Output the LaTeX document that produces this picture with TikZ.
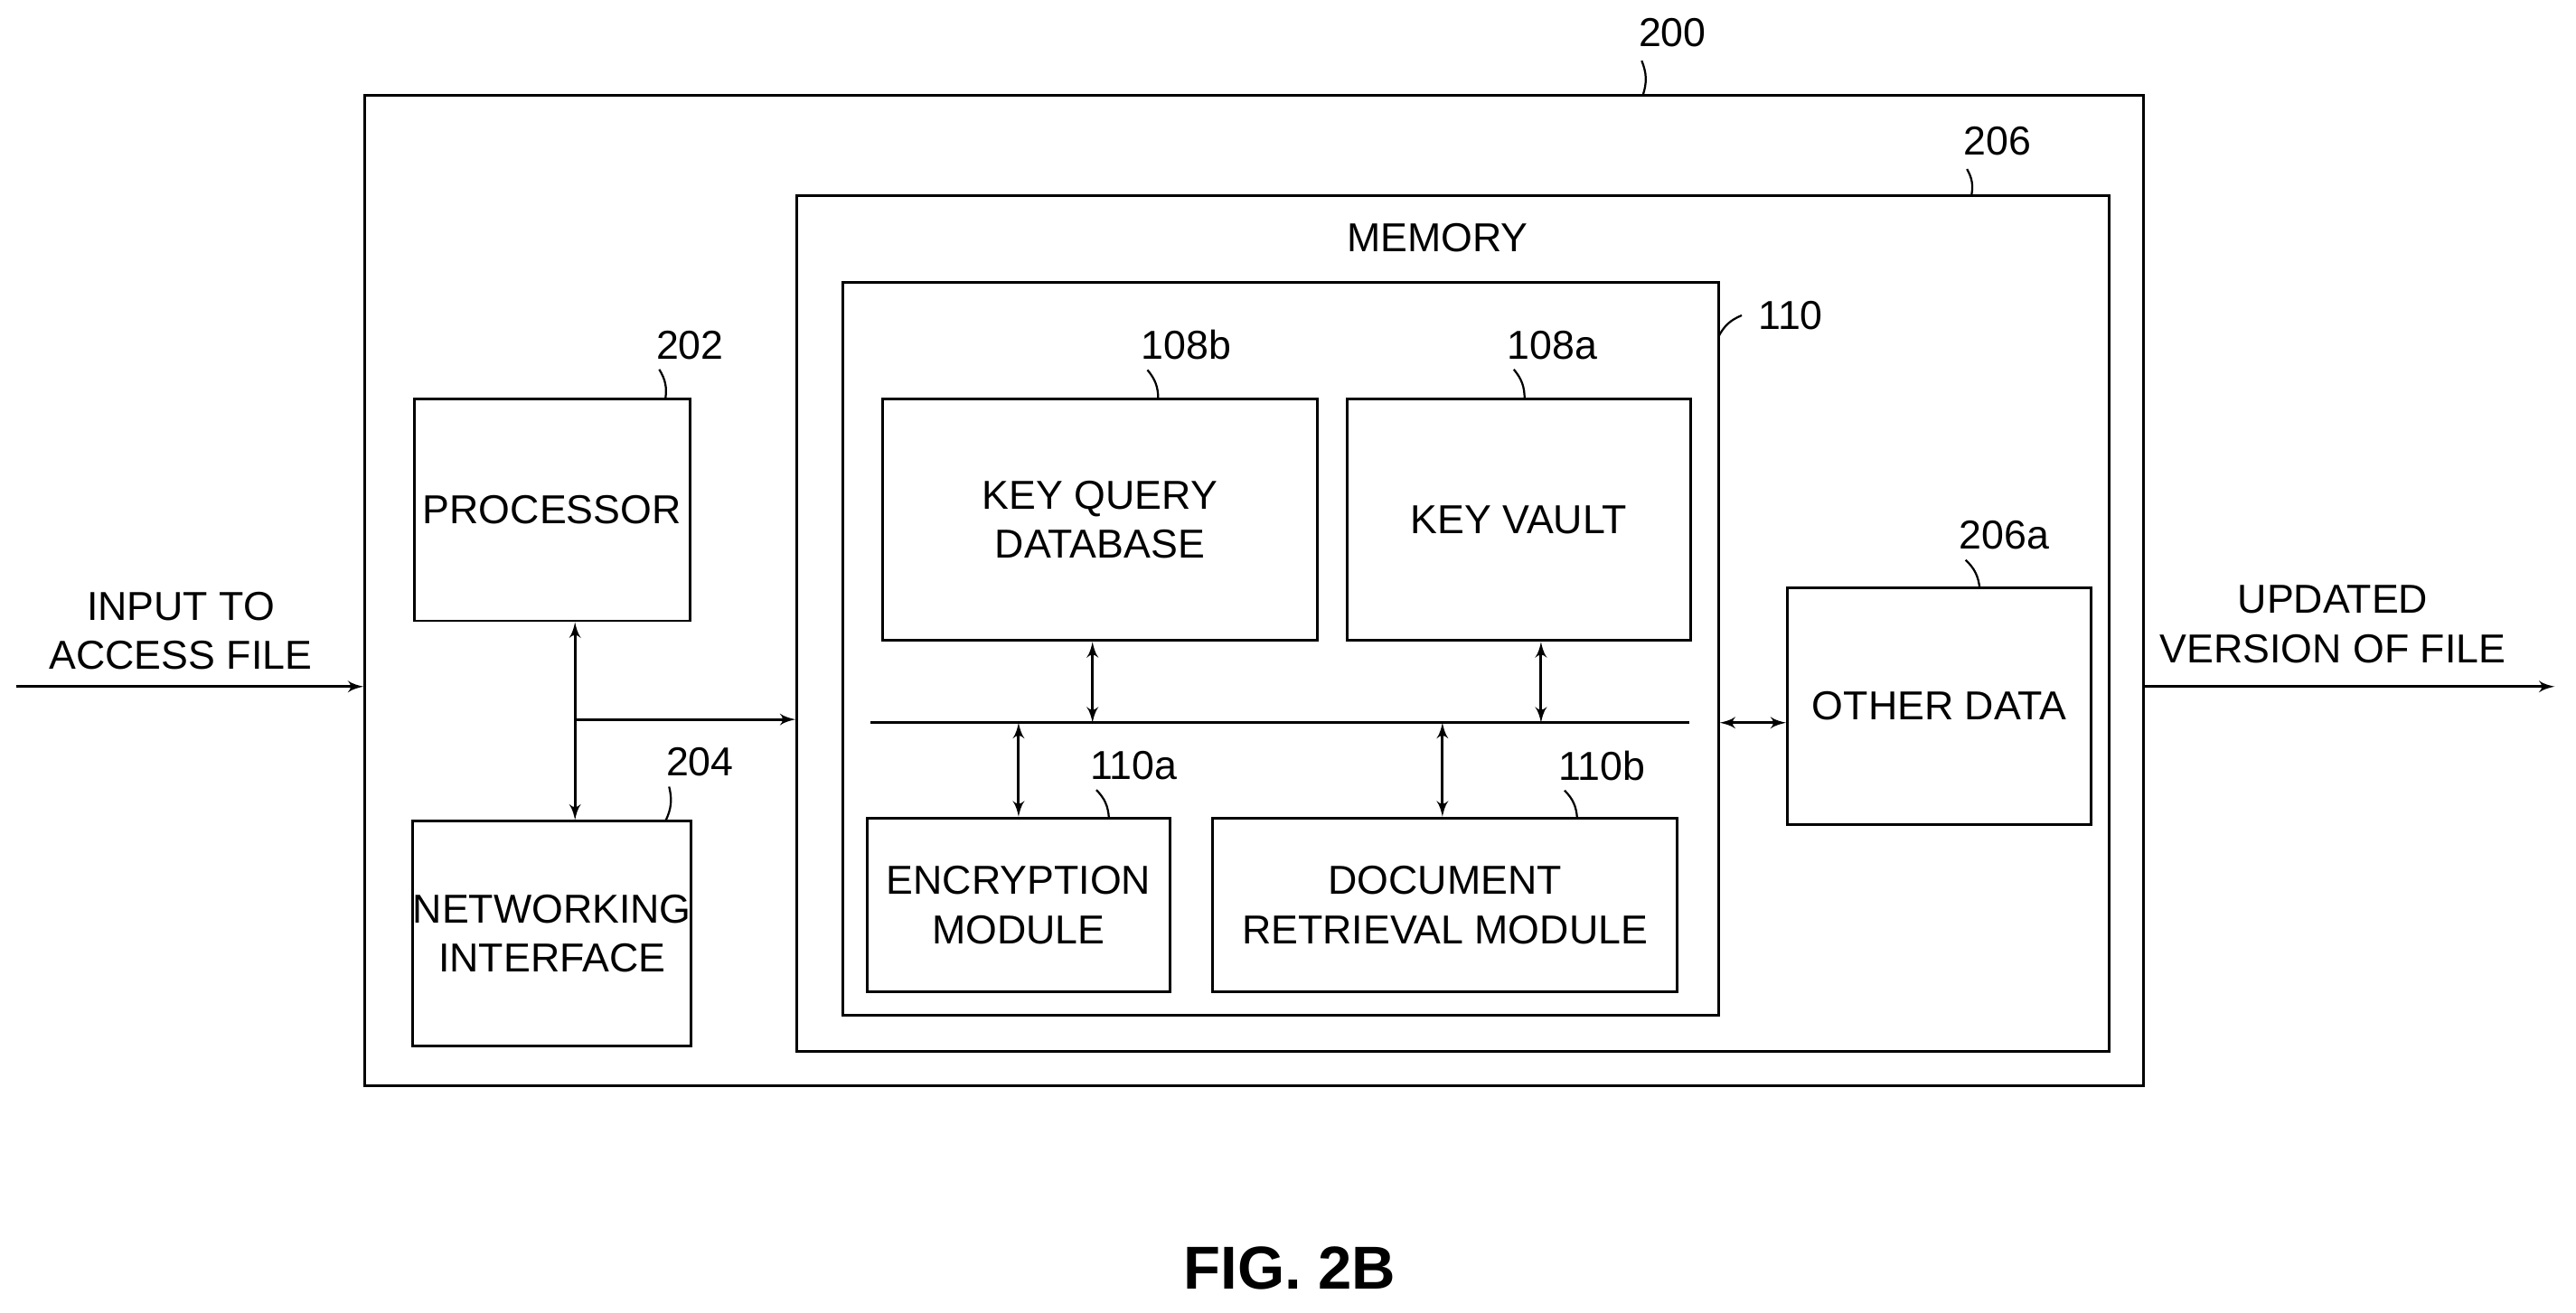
\documentclass[tikz,border=0pt]{standalone}
\usepackage{fontspec}
\setmainfont{Liberation Sans}
\usetikzlibrary{arrows,positioning}
\begin{document}
\begin{tikzpicture}[x=0.02cm,y=-0.02cm,
    box/.style={rectangle, draw, line width=0.9pt, text centered, inner sep=0pt},
    lbl/.style={font=\fontsize{14}{17}\selectfont},
    lead/.style={draw, line width=0.7pt},
    link/.style={draw, line width=0.9pt, latex'-latex'},
    every node/.style={font=\fontsize{14}{17}\selectfont, align=center}]
    \useasboundingbox (0,0) rectangle (1568,799);
    % place nodes
    \node [box, minimum width=21.66cm, minimum height=12.06cm] (device) at (763.5,359.5) {};
    \node [box, minimum width=15.98cm, minimum height=10.42cm] (memory) at (884.5,379.5) {};
    \node [anchor=north] (memtitle) at (875,130) {MEMORY};
    \node [box, minimum width=10.66cm, minimum height=8.92cm] (store) at (779.5,395) {};
    \node [box, minimum width=5.3cm, minimum height=2.94cm] (keyquery) at (669.5,316.5) {KEY QUERY\\DATABASE};
    \node [box, minimum width=4.18cm, minimum height=2.94cm] (keyvault) at (924.5,316.5) {KEY VAULT};
    \node [box, minimum width=3.68cm, minimum height=2.12cm] (encrypt) at (620,551) {ENCRYPTION\\MODULE};
    \node [box, minimum width=5.66cm, minimum height=2.12cm] (retrieve) at (879.5,551) {DOCUMENT\\RETRIEVAL MODULE};
    \node [box, minimum width=3.7cm, minimum height=2.88cm] (other) at (1180.5,430) {OTHER DATA};
    \node [box, minimum width=3.36cm, minimum height=2.7cm] (proc) at (336,310.5) {PROCESSOR};
    \node [box, minimum width=3.36cm, minimum height=2.74cm] (net) at (336,568.5) {NETWORKING\\INTERFACE};
    \coordinate (busl) at (530,440);
    \coordinate (busr) at (1028,440);
    \coordinate (inl) at (10,418);
    \coordinate (outr) at (1555,418);
    \coordinate (tap) at (350,438);
    \node (intext) at (110,384) {INPUT TO\\ACCESS FILE};
    \node (outtext) at (1420,380) {UPDATED\\VERSION OF FILE};
    \node [font=\bfseries\fontsize{21}{25}\selectfont] (fig) at (785,772) {FIG. 2B};
    % reference labels
    \node (l200) at (1018,20) {200};
    \node (l206) at (1216,86) {206};
    \node (l110) at (1090,192) {110};
    \node (l108b) at (722,210) {108b};
    \node (l108a) at (945,210) {108a};
    \node (l206a) at (1220,326) {206a};
    \node (l202) at (420,210) {202};
    \node (l204) at (426,464) {204};
    \node (l110a) at (690,466) {110a};
    \node (l110b) at (975,466) {110b};
    \path [lead] (l200.south west) ++(8,2) to[bend left=20] (1000,58);
    \path [lead] (l206.south west) ++(8,2) to[bend left=20] (1200,119);
    \path [lead] (l110.west) ++(-4,0) to[bend right=20] (1046,205);
    \path [lead] (l108b.south west) ++(10,0) to[bend left=20] (705,243);
    \path [lead] (l108a.south west) ++(10,0) to[bend left=20] (928,243);
    \path [lead] (l206a.south west) ++(10,0) to[bend left=20] (1205,358);
    \path [lead] (l202.south west) ++(8,0) to[bend left=20] (405,243);
    \path [lead] (l204.south west) ++(8,0) to[bend left=20] (405,500);
    \path [lead] (l110a.south west) ++(10,0) to[bend left=20] (675,498);
    \path [lead] (l110b.south west) ++(10,0) to[bend left=20] (960,498);
    % draw edges
    \path [draw, line width=0.9pt] (busl) -- (busr);
    \path [draw, line width=0.9pt, -latex'] (inl) -- (inl -| device.west);
    \path [draw, line width=0.9pt, -latex'] (outr -| device.east) -- (outr);
    \path [link] (proc.south -| tap) -- (net.north -| tap);
    \path [draw, line width=0.9pt, -latex'] (tap) -- (tap -| memory.west);
    \path [link] (keyquery.south -| 665,0) -- (665,440);
    \path [link] (keyvault.south -| 938,0) -- (938,440);
    \path [link] (620,440) -- (encrypt.north -| 620,0);
    \path [link] (878,440) -- (retrieve.north -| 878,0);
    \path [link] (store.east |- busr) -- (other.west |- busr);
\end{tikzpicture}
\end{document}
